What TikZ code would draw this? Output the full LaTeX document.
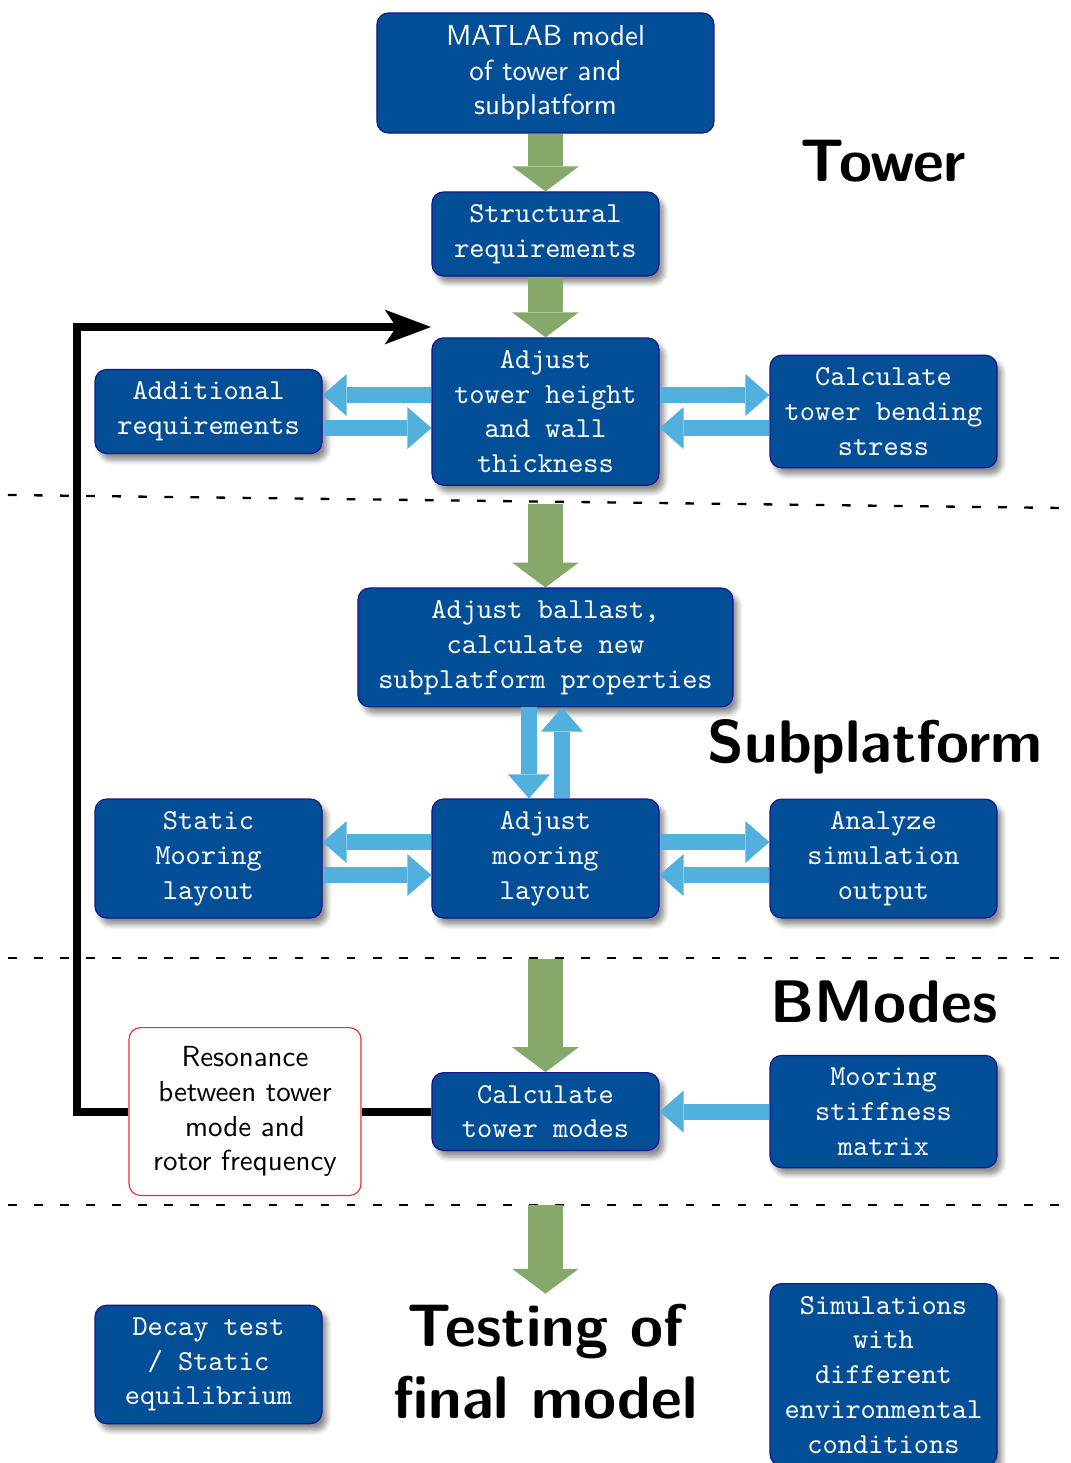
\documentclass[tikz,border=0pt]{standalone}
\usetikzlibrary{arrows.meta,shadows.blur}

\definecolor{boxblue}{RGB}{3,79,151}
\definecolor{boxline}{RGB}{20,20,140}
\definecolor{arrowblue}{RGB}{82,176,223}
\definecolor{arrowgreen}{RGB}{134,168,106}
\definecolor{resred}{RGB}{230,50,50}

\begin{document}
\begin{tikzpicture}[
        basebox/.style={draw=boxline, fill=boxblue, rounded corners, text=white, align=center, inner sep=4.3pt},
        box/.style={basebox, font=\ttfamily, minimum width=2.755cm, blur shadow={shadow xshift=0.6mm, shadow yshift=-0.8mm, shadow blur steps=6, shadow opacity=45}},
        greenarr/.style={draw=arrowgreen, line width=12pt, -{Triangle[length=8.6pt,width=23pt,line width=0pt]}},
        bluearr/.style={draw=arrowblue, line width=5.5pt, -{Triangle[length=8.3pt,width=14.5pt,line width=0pt]}},
        feedback/.style={line width=2.8pt},
        sepline/.style={thick, loosely dashed},
        heading/.style={font=\sffamily\bfseries\huge, align=center}
    ]
                    \useasboundingbox (0,0) rectangle (13,-17.758);
                
                    % tower
                    \node[basebox, font=\sffamily, minimum width=4.091cm] (matlab) at (6.621,-0.886) {MATLAB model\\of tower and\\subplatform};
                    \node[box] (struct)  at (6.621,-2.840) {Structural\\requirements};
                    \node[box] (adjt)    at (6.621,-4.995) {Adjust\\tower height\\and wall\\thickness};
                    \node[box] (addreq)  at (2.531,-4.995) {Additional\\requirements};
                    \node[box] (bending) at (10.724,-4.995) {Calculate\\tower bending\\stress};
                    \node[heading, anchor=base] (towertitle) at (10.724,-2.197) {Tower};
                    
                    % subplatform
                    \node[box, minimum width=4.552cm] (ballast) at (6.621,-7.859) {Adjust ballast,\\calculate new\\subplatform properties};
                    \node[box] (statmoor) at (2.531,-10.421) {Static\\Mooring\\layout};
                    \node[box] (adjmoor)  at (6.621,-10.421) {Adjust\\mooring\\layout};
                    \node[box] (analyze)  at (10.724,-10.421) {Analyze\\simulation\\output};
                    \node[heading, anchor=base] (subtitle) at (10.621,-9.261) {Subplatform};
                    
                    % bmodes
                    \node[draw=resred, fill=white, rounded corners, align=center, font=\sffamily, minimum width=2.816cm, inner sep=6.5pt] (reson) at (2.974,-13.492) {Resonance\\between tower\\mode and\\rotor frequency};
                    \node[box] (modes) at (6.621,-13.492) {Calculate\\tower modes};
                    \node[box] (stiff) at (10.724,-13.492) {Mooring\\stiffness\\matrix};
                    \node[heading, anchor=base] (bmtitle) at (10.730,-12.405) {BModes};
                    
                    % testing
                    \node[box] (decay) at (2.531,-16.562) {Decay test\\/ Static\\equilibrium};
                    \node[box, anchor=north] (sims) at (10.724,-15.573) {Simulations\\with\\different\\environmental\\conditions};
                    \node[heading] (testing) at (6.621,-16.527) {Testing of\\final model};
                    
                    \coordinate (g1) at (6.621,-6.118);
                    \coordinate (g2) at (6.621,-11.641);
                    \coordinate (g3) at (6.621,-14.626);
                    \coordinate (fbtop) at (0.935,-3.969);
                    \coordinate (fbend) at (5.232,-3.969);
                    
                    \draw[sepline] (0.097,-6.008) -- (12.891,-6.166);
                    \draw[sepline] (0.097,-11.628) -- (12.891,-11.628);
                    \draw[sepline] (0.097,-14.626) -- (12.891,-14.626);
                    
                    \draw[greenarr] (matlab.south) -- (struct.north);
                    \draw[greenarr] (struct.south) -- (adjt.north);
                    \draw[greenarr] (g1) -- (ballast.north);
                    \draw[greenarr] (g2) -- (modes.north);
                    \draw[greenarr] (g3) -- (testing.north);
                    
                    \draw[bluearr] ([yshift=0.2cm]adjt.west) -- ([yshift=0.2cm]addreq.east);
                    \draw[bluearr] ([yshift=-0.2cm]addreq.east) -- ([yshift=-0.2cm]adjt.west);
                    \draw[bluearr] ([yshift=0.2cm]adjt.east) -- ([yshift=0.2cm]bending.west);
                    \draw[bluearr] ([yshift=-0.2cm]bending.west) -- ([yshift=-0.2cm]adjt.east);
                    \draw[bluearr] ([xshift=-0.2cm]ballast.south) -- ([xshift=-0.2cm]adjmoor.north);
                    \draw[bluearr] ([xshift=0.2cm]adjmoor.north) -- ([xshift=0.2cm]ballast.south);
                    \draw[bluearr] ([yshift=0.2cm]adjmoor.west) -- ([yshift=0.2cm]statmoor.east);
                    \draw[bluearr] ([yshift=-0.2cm]statmoor.east) -- ([yshift=-0.2cm]adjmoor.west);
                    \draw[bluearr] ([yshift=0.2cm]adjmoor.east) -- ([yshift=0.2cm]analyze.west);
                    \draw[bluearr] ([yshift=-0.2cm]analyze.west) -- ([yshift=-0.2cm]adjmoor.east);
                    \draw[bluearr] (stiff.west) -- (modes.east);
                    
                    \draw[feedback] (modes.west) -- (reson.east);
                    \draw[feedback, -{Stealth[length=16pt,width=12pt,inset=4pt,line width=0pt]}] (reson.west) -| (fbtop) -- (fbend);
                    
                \end{tikzpicture}
\end{document}
